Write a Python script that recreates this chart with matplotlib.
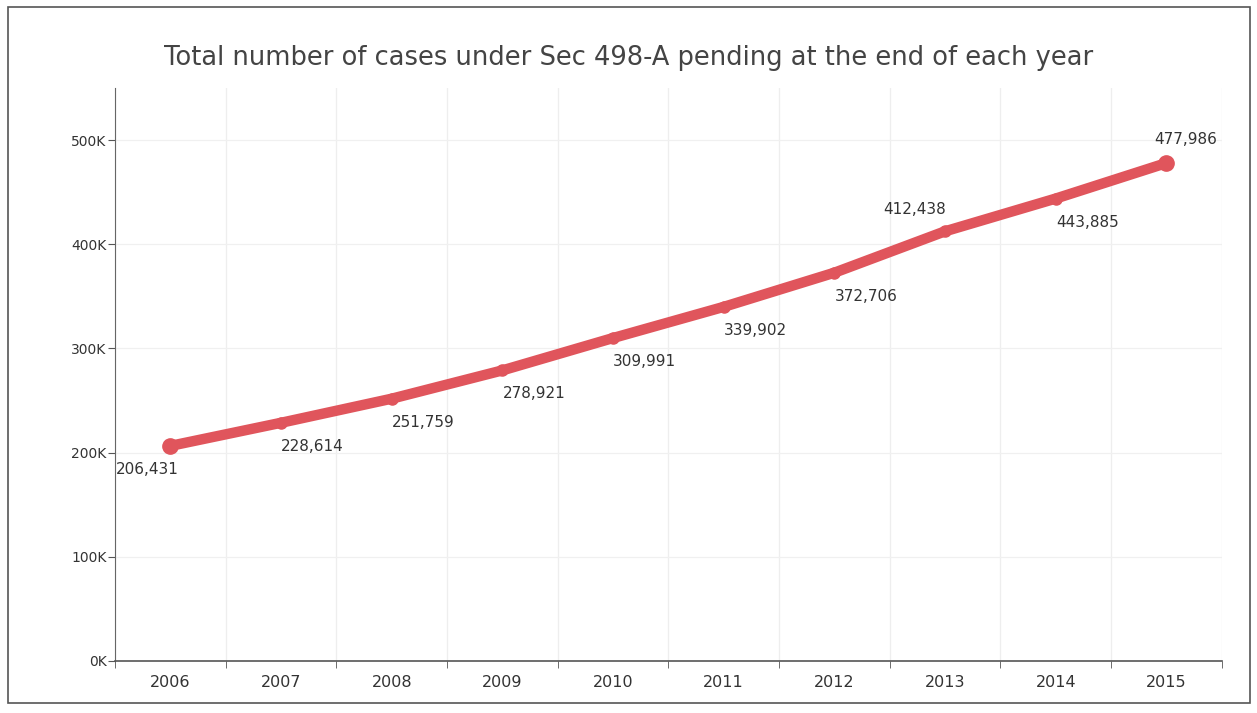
"""Line chart of pending Sec 498-A cases per year"""

import matplotlib.pyplot as plt
from matplotlib.patches import Rectangle
from matplotlib.ticker import FuncFormatter, MultipleLocator

# Data
years = ["2006", "2007", "2008", "2009", "2010", "2011", "2012", "2013", "2014", "2015"]
pending = [206431, 228614, 251759, 278921, 309991, 339902, 372706, 412438, 443885, 477986]
labels = ["206,431", "228,614", "251,759", "278,921", "309,991",
          "339,902", "372,706", "412,438", "443,885", "477,986"]

plt.rcParams["font.family"] = ["DejaVu Sans"]

fig = plt.figure(figsize=(12.57, 7.13), dpi=100)
ax = fig.add_axes([0.0915, 0.073, 0.8805, 0.8036])

# frame around the whole picture
fig.patches.append(Rectangle((0.0064, 0.014), 0.988, 0.976, transform=fig.transFigure,
                             fill=False, edgecolor="#555555", linewidth=1.2))

red = "#e0555c"
x = list(range(len(years)))
ax.plot(x, pending, color=red, linewidth=7.5, solid_capstyle="round", zorder=3)
ax.plot(x[1:-1], pending[1:-1], "o", color=red, markersize=8, zorder=4)
ax.plot([x[0], x[-1]], [pending[0], pending[-1]], "o", color=red, markersize=11, zorder=4)

# value labels: (dx, dy) in points and alignment
place = {
    0: (6, -17, "right"),
    7: (1, 16, "right"),
    9: (-9, 17, "left"),
}
for i, (v, lab) in enumerate(zip(pending, labels)):
    dx, dy, ha = place.get(i, (0, -17, "left"))
    ax.annotate(lab, (i, v), xytext=(dx, dy), textcoords="offset points",
                ha=ha, va="center", fontsize=11, color="#333333", zorder=5)

ax.set_xlim(-0.5, 9.5)
ax.set_ylim(0, 550000)

ax.set_xticks(x)
ax.set_xticklabels(years)
ax.xaxis.set_minor_locator(MultipleLocator(1, offset=0.5))
ax.tick_params(axis="x", which="major", length=0, labelsize=11.5, colors="#333333", pad=10)
ax.tick_params(axis="x", which="minor", length=5, color="#555555")

ax.yaxis.set_major_locator(MultipleLocator(100000))
ax.yaxis.set_major_formatter(FuncFormatter(lambda v, p: f"{int(v / 1000)}K"))
ax.tick_params(axis="y", length=5, color="#555555", labelsize=10, labelcolor="#333333", pad=1)

# grid lines between the year slots and at each y tick
ax.grid(True, which="minor", axis="x", color="#eeeeee", linewidth=0.9)
ax.grid(True, which="major", axis="y", color="#f0f0f0", linewidth=0.9)
ax.set_axisbelow(True)

for side in ["top", "right"]:
    ax.spines[side].set_visible(False)
ax.spines["left"].set_color("#666666")
ax.spines["bottom"].set_color("#555555")
ax.spines["bottom"].set_linewidth(1.2)

fig.text(0.5, 0.918, "Total number of cases under Sec 498-A pending at the end of each year",
         ha="center", va="center", fontsize=18.5, color="#444444")

fig.savefig("out.png", dpi=100)
